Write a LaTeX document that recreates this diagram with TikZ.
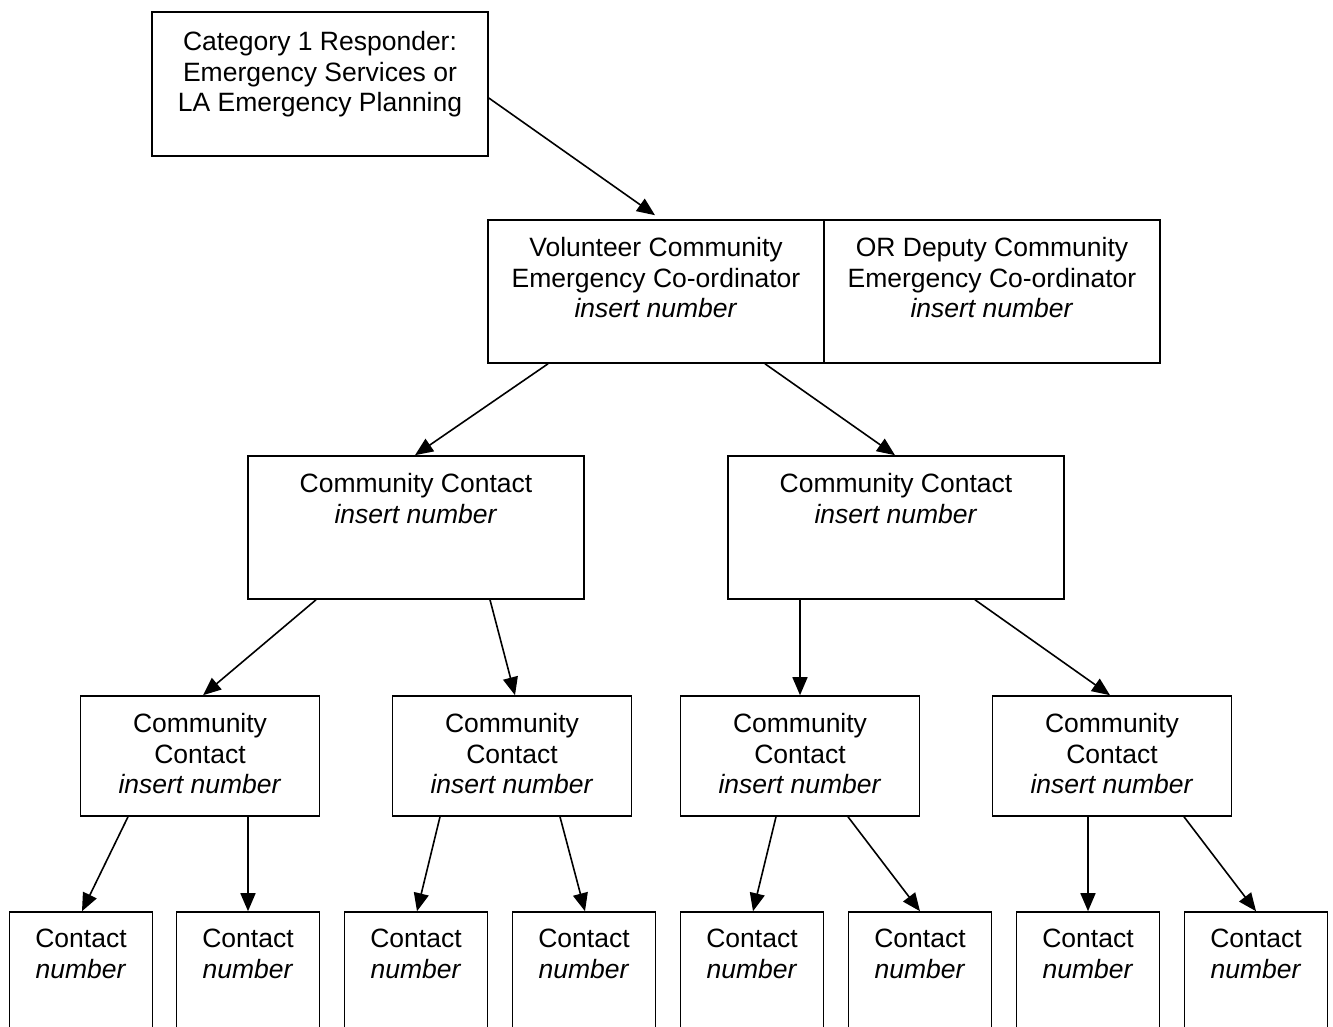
\documentclass[tikz,border=0pt]{standalone}
\usepackage{fontspec}
\setmainfont{Liberation Sans}
\usetikzlibrary{positioning,arrows.meta}
\tikzset{
  flowarrow/.style={-{Triangle[length=18pt,width=15pt]}, line width=1.6pt},
  orgbox/.style={draw, line width=1.6pt, inner sep=0pt, minimum width=336pt, minimum height=143pt},
  subbox/.style={orgbox, minimum width=239pt, minimum height=120pt},
  leafbox/.style={orgbox, minimum width=143pt, minimum height=150pt},
  boxtext/.style={anchor=north, align=center, inner sep=0pt, yshift=-18pt}
}

\begin{document}
\begin{tikzpicture}[x=1pt, y=-1pt, every node/.style={font=\fontsize{26.5}{30.5}\selectfont}]
  \useasboundingbox (0,0) rectangle (1333,1027);
  \clip (0,0) rectangle (1333,1027);
  % top level
  \node[orgbox, minimum height=144pt, label={[boxtext, yshift=-2pt]north:{Category 1 Responder:\\Emergency Services or\\LA Emergency Planning}}] (cat) at (320,84) {};
  \node[orgbox, label={[boxtext]north:{Volunteer Community\\Emergency Co-ordinator\\\textit{insert number}}}] (coord) at (656,291.5) {};
  \node[orgbox, label={[boxtext]north:{OR Deputy Community\\Emergency Co-ordinator\\\textit{insert number}}}] (deputy) at (992,291.5) {};
  % community contacts
  \node[orgbox, label={[boxtext]north:{Community Contact\\\textit{insert number}}}] (cc1) at (416,527.5) {};
  \node[orgbox, label={[boxtext]north:{Community Contact\\\textit{insert number}}}] (cc2) at (896,527.5) {};
  \foreach \i/\x in {1/200, 2/512, 3/800, 4/1112}
    \node[subbox, label={[boxtext]north:{Community\\Contact\\\textit{insert number}}}] (sc\i) at (\x,756) {};
  % contacts
  \foreach \i/\x in {1/81, 2/248, 3/416, 4/584, 5/752, 6/920, 7/1088, 8/1256}
    \node[leafbox, label={[boxtext]north:{Contact\\\textit{number}}}] (ct\i) at (\x,987) {};
  % arrows
  \draw[flowarrow] ([yshift=-14pt]cat.east) -- ([xshift=-1pt, yshift=4pt]coord.north);
  \draw[flowarrow] ([xshift=-108pt]coord.south) -- ([xshift=-1pt]cc1.north);
  \draw[flowarrow] ([xshift=109pt]coord.south) -- ([xshift=-1pt]cc2.north);
  \draw[flowarrow] ([xshift=-100pt]cc1.south) -- ([xshift=3pt]sc1.north);
  \draw[flowarrow] ([xshift=74pt]cc1.south) -- ([xshift=3pt]sc2.north);
  \draw[flowarrow] ([xshift=-96pt]cc2.south) -- (sc3.north);
  \draw[flowarrow] ([xshift=79pt]cc2.south) -- ([xshift=-2pt]sc4.north);
  \draw[flowarrow] ([xshift=-72pt]sc1.south) -- ([xshift=1pt]ct1.north);
  \draw[flowarrow] ([xshift=48pt]sc1.south) -- (ct2.north);
  \draw[flowarrow] ([xshift=-72pt]sc2.south) -- ([xshift=1pt]ct3.north);
  \draw[flowarrow] ([xshift=48pt]sc2.south) -- ([xshift=1pt]ct4.north);
  \draw[flowarrow] ([xshift=-24pt]sc3.south) -- ([xshift=1pt]ct5.north);
  \draw[flowarrow] ([xshift=48pt]sc3.south) -- (ct6.north);
  \draw[flowarrow] ([xshift=-24pt]sc4.south) -- (ct7.north);
  \draw[flowarrow] ([xshift=72pt]sc4.south) -- (ct8.north);
\end{tikzpicture}
\end{document}
